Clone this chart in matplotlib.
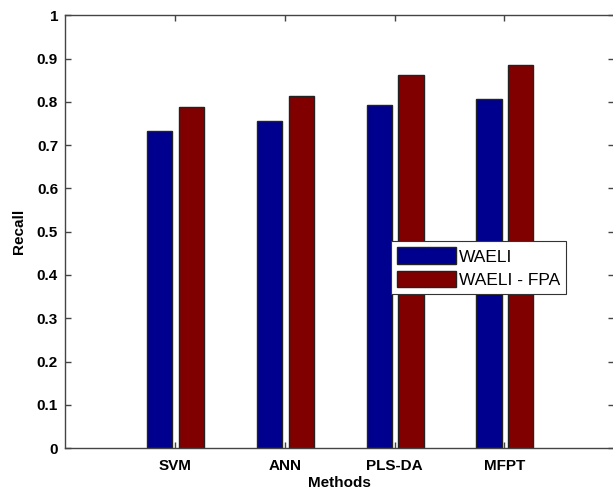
import numpy as np
import matplotlib.pyplot as plt

# data
methods = ['SVM', 'ANN', 'PLS-DA', 'MFPT']
waeli = [0.733, 0.756, 0.793, 0.807]
waeli_fpa = [0.788, 0.814, 0.861, 0.885]

plt.rcParams['font.family'] = ['Liberation Sans', 'DejaVu Sans']

fig = plt.figure(figsize=(6.13, 4.93), dpi=100)
ax = fig.add_axes([0.106, 0.091, 0.896, 0.878])

x = np.arange(1, len(methods) + 1)
w = 0.23
ax.bar(x - 0.14, waeli, w, color='#00008f', edgecolor='#222222', linewidth=1, label='WAELI')
ax.bar(x + 0.15, waeli_fpa, w, color='#800000', edgecolor='#222222', linewidth=1, label='WAELI - FPA')

ax.set_xlim(0, 5)
ax.set_ylim(0, 1)
ax.set_xticks(x)
ax.set_xticklabels(methods, fontweight='bold', fontsize=11)
ax.set_yticks(np.arange(0, 1.01, 0.1))
ax.set_yticklabels(['0', '0.1', '0.2', '0.3', '0.4', '0.5', '0.6', '0.7', '0.8', '0.9', '1'],
                   fontweight='bold', fontsize=11)
ax.tick_params(direction='in', top=True, right=True, length=4, width=1, color='#444444', pad=5)
ax.tick_params(axis='x', pad=8)
for s in ax.spines.values():
    s.set_color('#444444')
    s.set_linewidth(1)

ax.set_xlabel('Methods', fontweight='bold', fontsize=11, labelpad=2)
ax.set_ylabel('Recall', fontweight='bold', fontsize=11, labelpad=8)

leg = ax.legend(loc='upper left', bbox_to_anchor=(0.594, 0.478), fontsize=12.5,
                fancybox=False, framealpha=1, edgecolor='#333333',
                handlelength=3.4, handleheight=1.1, handletextpad=0.15,
                borderpad=0.35, labelspacing=0.35, borderaxespad=0)
leg.get_frame().set_linewidth(0.8)

plt.savefig('out.png', dpi=100)
